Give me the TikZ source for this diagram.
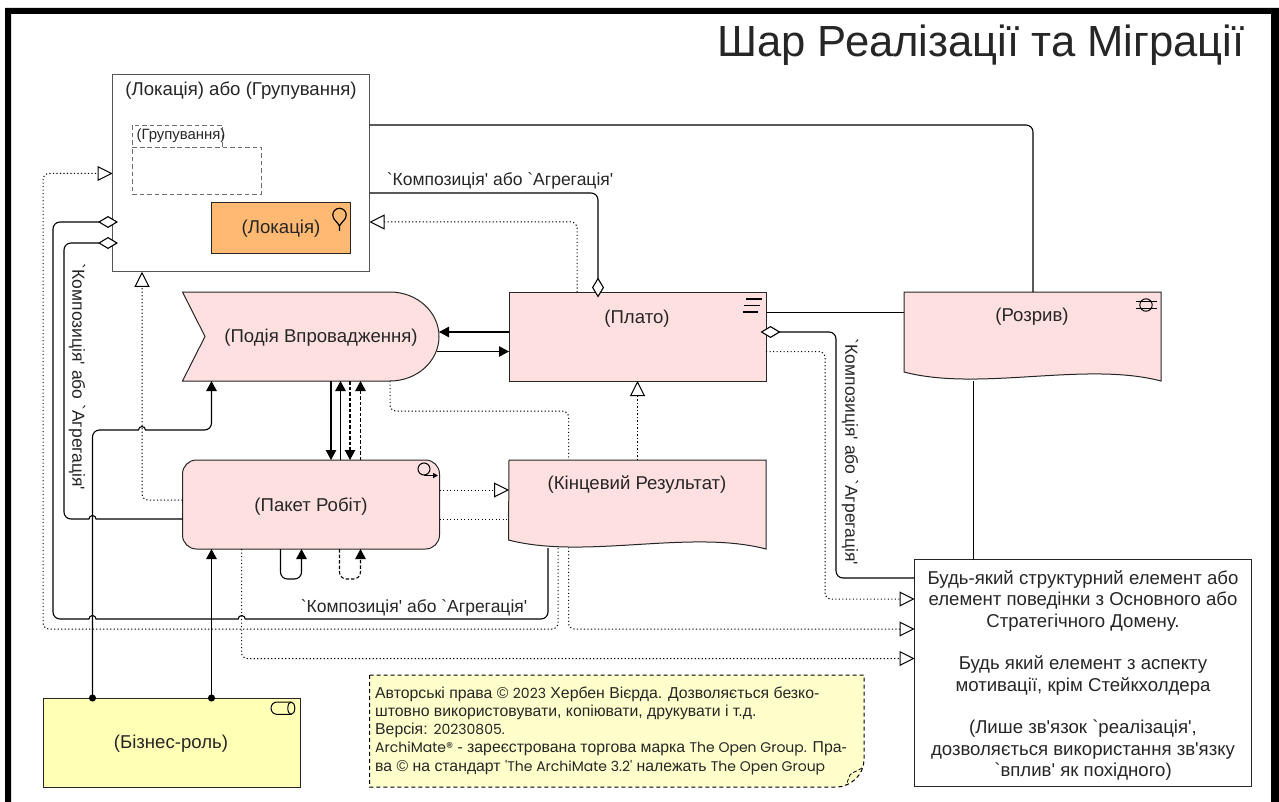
\documentclass[tikz,border=0pt]{standalone}
\usepackage{fontspec}
\setmainfont{Liberation Sans}[Ligatures=TeXOff]
\newfontfamily\latfont{Poppins}[Ligatures=TeXOff]
\newcommand{\lat}[1]{{\latfont\fontsize{14}{18.2}\selectfont #1}}
\usetikzlibrary{arrows.meta,backgrounds,positioning}
\definecolor{implpink}{HTML}{FFE0E0}
\definecolor{physorange}{HTML}{FFB973}
\definecolor{bizyellow}{HTML}{FFFFB5}
\definecolor{noteyellow}{HTML}{FFFFCC}
\definecolor{edgegray}{HTML}{555555}
\tikzset{
	elem/.style={draw=black!85,line width=1pt,inner sep=0pt,outer sep=0pt,minimum width=257,minimum height=89},
	hull/.style={inner sep=0pt,outer sep=0pt,minimum width=257,minimum height=89},
	pinkshape/.style={draw=black!85,line width=1pt,fill=implpink},
	groupbox/.style={draw=edgegray!85,line width=.9pt,dash pattern=on 4.5pt off 3pt,inner sep=0pt,outer sep=0pt},
	txt/.style={font=\fontsize{18.6}{21}\selectfont,inner sep=0pt,text=black!85,yshift=-2pt},
	smalltxt/.style={font=\fontsize{17.5}{20}\selectfont,inner sep=0pt,text=black!85,yshift=-2pt},
	link/.style={line width=1.1pt,rounded corners=7pt},
	trigger/.style={link,-{Triangle[length=10pt,width=10.5pt]}},
	flowlink/.style={link,dash pattern=on 3.5pt off 2pt,-{Triangle[length=10pt,width=10.5pt]}},
	assignlink/.style={link,{Circle[length=7pt]}-{Triangle[length=10pt,width=10.5pt]},shorten <=-3.5pt},
	partlink/.style={link,-{Diamond[fill=white,length=20pt,width=12pt]},shorten >=-5.5pt},
	dots/.style={line width=1pt,rounded corners=6pt,dash pattern=on 1.2pt off 2.3pt},
	realize/.style={dots,-{Triangle[fill=white,length=15pt,width=15pt]}},
}
\begin{document}
\begin{tikzpicture}[x=1pt,y=-1pt]
	\useasboundingbox (0,0) rectangle (1279,802);
	\fill[even odd rule] (5,8) rectangle (1285,815) (11,14) rectangle (1271,815);
	\node[anchor=east,inner sep=0pt,text=black!85,font=\fontsize{43.6}{46}\selectfont] (title) at (1245,45) {Шар Реалізації та Міграції};

	\node[elem,draw=edgegray,fill=white,minimum height=197.5] (big) at (241,173) {};
	\node[txt,below=5pt of big.north] (bigtext) {(Локація) або (Групування)};
	\node[groupbox,minimum width=90,minimum height=22] (grouptab) at (177,136) {};
	\node[groupbox,minimum width=129,minimum height=47] (groupbody) at (196.5,170.5) {};
	\node[inner sep=0pt,text=black!85,font=\fontsize{14.9}{17}\selectfont] (grouptext) at (181,136) {(Групування)};
	\node[elem,fill=physorange,minimum width=138.5,minimum height=50.5] (place) at (281.2,228.2) {};
	\node[txt] (placetext) at (281,227) {(Локація)};
	\draw[line width=1.2pt] (339.5,231) -- (339.5,226) .. controls (337,221) and (332.8,220) .. (332.8,215) arc (180:360:6.7) .. controls (346.2,220) and (342,221) .. (339.5,226);

	\node[hull] (event) at (311,336.5) {};
	\node[elem,fill=implpink] (plato) at (637.5,336.5) {};
	\node[elem,fill=implpink,rounded corners=14pt] (work) at (311,504.5) {};
	\node[hull] (result) at (637.5,504.5) {};
	\node[hull] (gap) at (1032.5,336.5) {};
	\node[elem,fill=bizyellow] (role) at (171.5,742.5) {};
	\node[elem,fill=white,minimum width=337,minimum height=227] (any) at (1083,673) {};

	\begin{scope}[on background layer]
		\draw[realize] (390,0 |- event.south) -- (390,411) -- (568.5,411) -- (568.5,629) -- (any.west |- 0,629);
		\draw[line width=1.1pt] (973.5,0 |- gap.south) -- (973.5,0 |- any.north);
	\end{scope}

	\draw[pinkshape] (event.north west) -- (390,0 |- event.north) arc (-90:90:49 and 44.5) -- (event.south west) -- (205,0 |- event.west) -- cycle;
	\draw[pinkshape] (result.north west) -- (result.north east) -- (result.south east) .. controls (690,529) and (585,560) .. (508.5,540) -- cycle;
	\draw[pinkshape] (gap.north west) -- (gap.north east) -- (gap.south east) .. controls (1085,361) and (980,392) .. (904,372) -- cycle;

	\node[txt] (eventtext) at (321,336) {(Подія Впровадження)};
	\node[txt] (platotext) at (637,317) {(Плато)};
	\node[txt] (worktext) at (311,505) {(Пакет Робіт)};
	\node[txt] (resulttext) at (637,483) {(Кінцевий Результат)};
	\node[txt] (gaptext) at (1032,315) {(Розрив)};
	\node[txt] (roletext) at (171,742) {(Бізнес-роль)};
	\node[txt,align=center,font=\fontsize{18.6}{21.3}\selectfont] (anytext) at (1083,673.5) {Будь-який структурний елемент або\\елемент поведінки з Основного або\\Стратегічного Домену.\\[21.3pt]Будь який елемент з аспекту\\мотивації, крім Стейкхолдера\\[21.3pt](Лише зв'язок `реалізація',\\дозволяється використання зв'язку\\`вплив' як похідного)};

	\draw[line width=1.6pt] (746,299) -- (762,299) (744,305.5) -- (760,305.5) (743,312) -- (758,312);
	\draw[line width=1pt] (1146,305) circle (6.2);
	\draw[line width=1pt] (1136,301.7) -- (1157,301.7) (1136,308.3) -- (1157,308.3);
	\draw[line width=1pt] (277,702) -- (291,702) arc (-90:90:3.8 and 6.2) -- (277,714.4) arc (90:270:6 and 6.2);
	\draw[line width=1pt] (291,702) arc (270:90:3.2 and 6.2);
	\draw[line width=1pt] (424,469) circle (6);
	\draw[line width=1.2pt,-{Triangle[length=5pt,width=5pt]}] (424,475.5) -- (438,475.5);

	\draw[realize] (work.west |- 0,500) -- (142,500) -- (142,0 |- big.south);
	\draw[realize] (577,0 |- plato.north) -- (577,222) -- (big.east |- 0,222);
	\draw[realize] (558,548) -- (558,629) -- (43,629) -- (43,173.5) -- (big.west |- 0,173.5);
	\draw[realize] (work.east |- 0,490) -- (result.west |- 0,490);
	\draw[dots] (work.east |- 0,519) -- (result.west |- 0,519);
	\draw[realize] (result.north) -- (plato.south);
	\draw[realize] (plato.east |- 0,351.5) -- (825,351.5) -- (825,599) -- (any.west |- 0,599);
	\draw[realize] (241.5,0 |- work.south) -- (241.5,658.5) -- (any.west |- 0,658.5);

	\draw[link] (big.east |- 0,125) -- (1033,125) -- (1033,0 |- gap.north);
	\draw[link] (plato.east |- 0,312.5) -- (gap.west |- 0,312.5);
	\draw[trigger] (plato.west |- 0,332) -- (439,332);
	\draw[trigger] (437,351.5) -- (plato.west |- 0,351.5);
	\draw[trigger] (331,0 |- event.south) -- (331,0 |- work.north);
	\draw[trigger] (340.5,0 |- work.north) -- (340.5,0 |- event.south);
	\draw[flowlink] (350,0 |- event.south) -- (350,0 |- work.north);
	\draw[flowlink] (360.5,0 |- work.north) -- (360.5,0 |- event.south);
	\draw[trigger] (280.5,0 |- work.south) -- (280.5,579) -- (301.5,579) -- (301.5,0 |- work.south);
	\draw[flowlink] (339.5,0 |- work.south) -- (339.5,579) -- (360.5,579) -- (360.5,0 |- work.south);
	\draw[assignlink] (92.5,0 |- role.north) -- (92.5,430) -- (125,430) [sharp corners] -- (138.5,430) arc (180:360:3.5) -- (160,430) [rounded corners=7pt] -- (211.5,430) -- (211.5,0 |- event.south);
	\draw[assignlink] (211.5,0 |- role.north) -- (211.5,0 |- work.south);

	\draw[partlink] (big.east |- 0,193) -- (598,193) -- (598,0 |- plato.north);
	\draw[partlink] (any.west |- 0,578) -- (836,578) -- (836,332) -- (plato.east |- 0,332);
	\draw[partlink,sharp corners] (work.west |- 0,519) -- (96,519) arc (0:-180:3.5) -- (80,519) [rounded corners=7pt] -- (64,519) -- (64,243) -- (big.west |- 0,243);
	\draw[partlink] (548,548) -- (548,619) -- (260,619) [sharp corners] -- (245.2,619) arc (0:-180:3.5) -- (96,619) arc (0:-180:3.5) -- (80,619) [rounded corners=7pt] -- (53,619) -- (53,222) -- (big.west |- 0,222);

	\node[smalltxt] (toplabel) at (500,179) {`Композиція' або `Агрегація'};
	\node[smalltxt] (bottomlabel) at (414,606) {`Композиція' або `Агрегація'};
	\node[smalltxt,rotate=-90] (leftlabel) at (77,375) {`Композиція' або `Агрегація'};
	\node[smalltxt,rotate=-90] (rightlabel) at (850,450) {`Композиція' або `Агрегація'};

	\draw[line width=1pt,dash pattern=on 4pt off 3pt,fill=noteyellow] (369.5,675) -- (864,675) -- (864,760) .. controls (864,775) and (850,787) .. (837,787) -- (369.5,787) -- cycle;
	\draw[line width=.8pt,dash pattern=on 4pt off 2pt] (862,768) .. controls (856,772) and (852,772) .. (850,775) .. controls (848,778) and (848,782) .. (846,785);
	\node[inner sep=0pt,anchor=north west,align=left,text=black!85,font=\fontsize{15.8}{18.2}\selectfont] (note) at (375,686.5) {Авторські права © \lat{2023} Хербен Вієрда. Дозволяється безко-\\штовно використовувати, копіювати, друкувати і т.д.\\Версія: \lat{20230805.}\\\lat{ArchiMate®} - зареєстрована торгова марка \lat{The Open Group.} Пра-\\ва © на стандарт \lat{'The ArchiMate 3.2'} належать \lat{The Open Group}};
\end{tikzpicture}
\end{document}
